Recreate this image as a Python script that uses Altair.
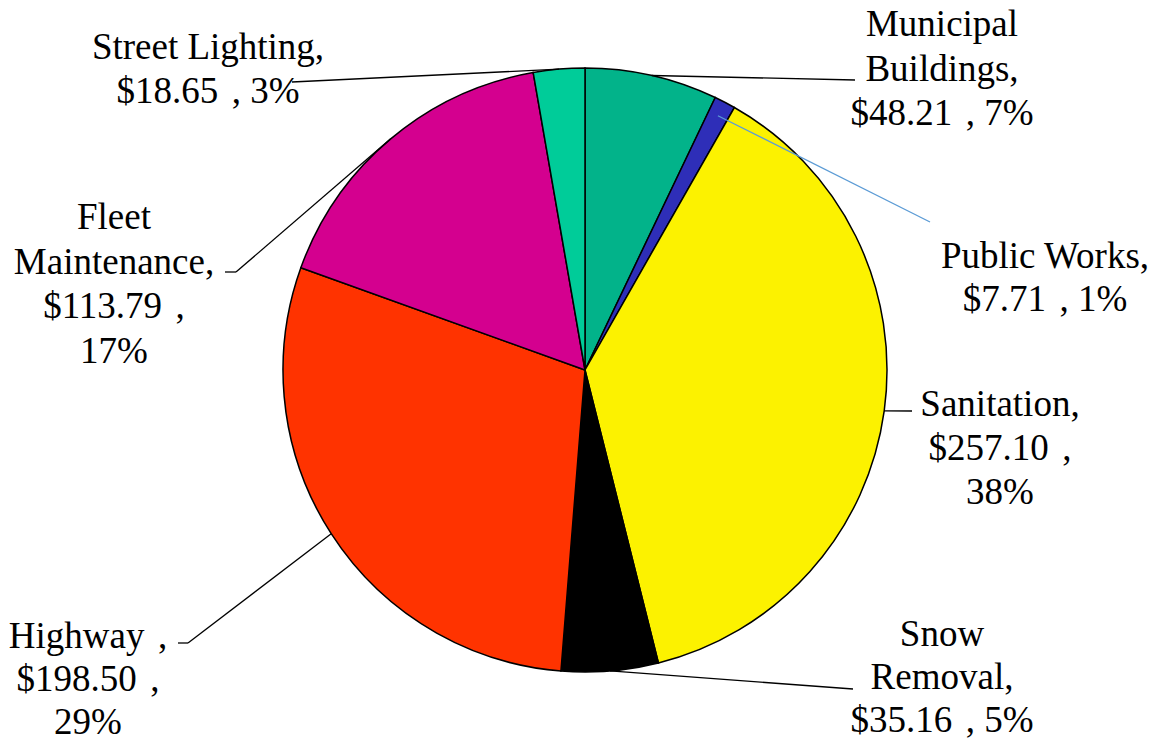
import altair as alt
import numpy as np
import pandas as pd

# ---- data ----
categories = ["Municipal Buildings", "Public Works", "Sanitation", "Snow Removal",
              "Highway", "Fleet Maintenance", "Street Lighting"]
values = [48.21, 7.71, 257.10, 35.16, 198.50, 113.79, 18.65]
colors = ["#02B38A", "#2E2EB8", "#FCF200", "#000000", "#FF3300", "#D4008F", "#00CC99"]

# ---- layout (chart pixel coords; page = chart + 8) ----
W, H = 1147, 731
CX, CY, R = 577, 362, 302
FONT = "Liberation Serif"
FS = 37
SP = "\u2006\u2009"  # wide gap before the comma, as in the original labels
# line breaks of each label: which pieces go on which line
label_lines = {
    "Municipal Buildings": ["Municipal", "Buildings,", "{v}{s}, {p}"],
    "Public Works": ["Public Works,", "{v}{s}, {p}"],
    "Sanitation": ["Sanitation,", "{v}{s},", "{p}"],
    "Snow Removal": ["Snow", "Removal,", "{v}{s}, {p}"],
    "Highway": ["Highway{s},", "{v}{s},", "{p}"],
    "Fleet Maintenance": ["Fleet", "Maintenance,", "{v}{s},", "{p}"],
    "Street Lighting": ["Street Lighting,", "{v}{s}, {p}"],
}
# center x and center y of first line, line step
label_pos = {
    "Municipal Buildings": (934, 17, 44.5),
    "Public Works": (1037, 249, 43),
    "Sanitation": (992, 397, 44),
    "Snow Removal": (934, 627, 43),
    "Highway": (80, 629, 43),
    "Fleet Maintenance": (106, 210, 44.5),
    "Street Lighting": (200, 40, 44),
}
# leader: label-side points (elbow list), pie-side radius factor
leader_pts = {
    "Municipal Buildings": ([(847, 72)], 1.0),
    "Public Works": ([(922, 214)], 0.95),
    "Sanitation": ([(904, 403)], 1.0),
    "Snow Removal": ([(845, 681)], 1.0),
    "Highway": ([(170, 635), (180, 635)], 1.0),
    "Fleet Maintenance": ([(217, 264), (228, 264)], 1.0),
    "Street Lighting": ([(284, 74)], 1.0),
}
leader_colors = {"Public Works": "#5B9BD5"}

total = sum(values)
pcts = [round(v / total * 100) for v in values]
cum = np.cumsum([0] + values)
mid_angles = [(cum[i] + cum[i + 1]) / 2 / total * 2 * np.pi for i in range(len(values))]

pie_df = pd.DataFrame({"category": categories, "value": values, "idx": range(len(values))})

rows = []
for cat, v, p in zip(categories, values, pcts):
    x0, y0, step = label_pos[cat]
    for k, tmpl in enumerate(label_lines[cat]):
        rows.append({"x": x0, "y": y0 + k * step,
                     "t": tmpl.format(v=f"${v:.2f}", p=f"{p}%", s=SP)})
text_df = pd.DataFrame(rows)

seg = []
for i, cat in enumerate(categories):
    pts, rf = leader_pts[cat]
    a = mid_angles[i]
    end = (CX + R * rf * np.sin(a), CY - R * rf * np.cos(a))
    chain = list(pts) + [end]
    for (x1, y1), (x2, y2) in zip(chain[:-1], chain[1:]):
        seg.append({"x": x1, "y": y1, "x2": x2, "y2": y2,
                    "c": leader_colors.get(cat, "#000000")})
seg_df = pd.DataFrame(seg)

pie = alt.Chart(pie_df).mark_arc(radius=R, stroke="#000000", strokeWidth=1.5).encode(
    theta=alt.Theta("value:Q", stack=True),
    order=alt.Order("idx:Q"),
    color=alt.Color("category:N", scale=alt.Scale(domain=categories, range=colors), legend=None),
    x=alt.value(CX), y=alt.value(CY),
)

leaders = alt.Chart(seg_df).mark_rule(strokeWidth=1.3).encode(
    x=alt.X("x:Q", scale=None), y=alt.Y("y:Q", scale=None),
    x2="x2:Q", y2="y2:Q",
    color=alt.Color("c:N", scale=None),
)

labels = alt.Chart(text_df).mark_text(font=FONT, fontSize=FS, align="center",
                                      baseline="middle", color="#000000").encode(
    x=alt.X("x:Q", scale=None), y=alt.Y("y:Q", scale=None), text="t:N",
)

chart = alt.layer(pie, leaders, labels).properties(
    width=W, height=H, padding=0, autosize=alt.AutoSizeParams(type="none")
).configure_view(stroke=None)

chart.save("out.html", embed_options={"renderer": "svg", "actions": False})
